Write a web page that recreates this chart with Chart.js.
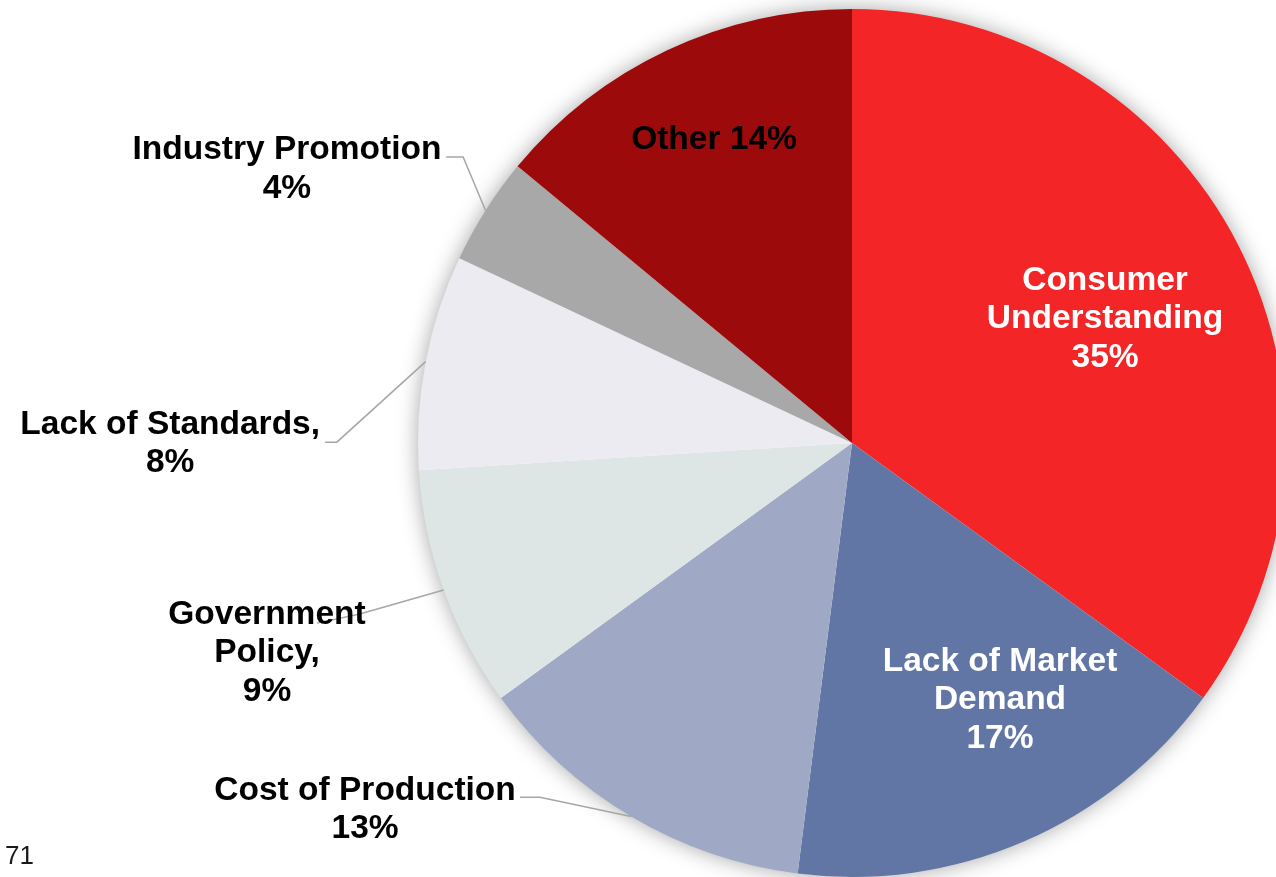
<!DOCTYPE html>
<html>
<head>
<meta charset="utf-8">
<script src="https://cdn.jsdelivr.net/npm/chart.js@4.4.1/dist/chart.umd.min.js"></script>
<style>
  html, body { margin: 0; padding: 0; background: #ffffff; overflow: hidden; width: 1276px; height: 877px; }
  #wrap { position: absolute; left: 0; top: 0; width: 1300px; height: 900px; }
  #pageNum { position: absolute; left: 5px; top: 840px; font-family: "Liberation Sans", Arial, sans-serif; font-size: 26px; color: #1a1a1a; line-height: 30px; }
</style>
</head>
<body>
<div id="wrap"><canvas id="c" width="1300" height="900"></canvas></div>
<div id="pageNum">71</div>
<script>
// ---- data ----
const categories = ["Consumer Understanding", "Lack of Market Demand", "Cost of Production", "Government Policy", "Lack of Standards", "Industry Promotion", "Other"];
const shares = [35, 17, 13, 9, 8, 4, 14];
const labelTemplates = [
  "Consumer\nUnderstanding\n{v}%",
  "Lack of Market\nDemand\n{v}%",
  "Cost of Production\n{v}%",
  "Government\nPolicy,\n{v}%",
  "Lack of Standards,\n{v}%",
  "Industry Promotion\n{v}%",
  "Other {v}%"
];

// ---- styles ----
const sliceColors = ["#F32526", "#6276A6", "#9FA8C5", "#DEE5E5", "#ECEBF1", "#A8A8A8", "#9C0A0B"];
const labelColors = ["#ffffff", "#ffffff", "#000000", "#000000", "#000000", "#000000", "#000000"];
// label block centre, relative to pie centre in units of radius; leader: start & elbow (null = inside label)
const labelLayout = [
  { c: [0.583, -0.293], leader: null },
  { c: [0.341, 0.585], leader: null },
  { c: [-1.122, 0.838], leader: [[-0.765, 0.816], [-0.719, 0.816]] },
  { c: [-1.348, 0.477], leader: [[-1.233, 0.415], [-1.134, 0.394]] },
  { c: [-1.571, -0.005], leader: [[-1.214, -0.002], [-1.187, -0.002]] },
  { c: [-1.302, -0.638], leader: [[-0.935, -0.659], [-0.896, -0.659]] },
  { c: [-0.318, -0.705], leader: null }
];
const FONT = 'bold 33.5px "Liberation Sans", Arial, Helvetica, sans-serif';
const LINE_H = 38.5;
const TEXT_DY = 3;

const shadowPlugin = {
  id: 'pieShadow',
  beforeDatasetsDraw(chart) {
    const arc = chart.getDatasetMeta(0).data[0];
    if (!arc) return;
    const ctx = chart.ctx;
    ctx.save();
    ctx.shadowColor = 'rgba(0,0,0,0.38)';
    ctx.shadowBlur = 22;
    ctx.beginPath();
    ctx.arc(arc.x, arc.y, arc.outerRadius - 1, 0, Math.PI * 2);
    ctx.fillStyle = '#ffffff';
    ctx.fill();
    ctx.restore();
  }
};

const labelPlugin = {
  id: 'pieLabels',
  afterDatasetsDraw(chart) {
    const ctx = chart.ctx;
    const meta = chart.getDatasetMeta(0);
    const values = chart.data.datasets[0].data;
    meta.data.forEach((arc, i) => {
      const R = arc.outerRadius;
      const cx = arc.x, cy = arc.y;
      const lay = labelLayout[i];
      if (lay.leader) {
        const mid = (arc.startAngle + arc.endAngle) / 2;
        const ex = cx + Math.cos(mid) * R;
        const ey = cy + Math.sin(mid) * R;
        ctx.save();
        ctx.strokeStyle = '#A6A6A6';
        ctx.lineWidth = 1.5;
        ctx.beginPath();
        ctx.moveTo(cx + lay.leader[0][0] * R, cy + lay.leader[0][1] * R);
        ctx.lineTo(cx + lay.leader[1][0] * R, cy + lay.leader[1][1] * R);
        ctx.lineTo(ex, ey);
        ctx.stroke();
        ctx.restore();
      }
      const lines = labelTemplates[i].replace('{v}', values[i]).split('\n');
      const tx = cx + lay.c[0] * R;
      const ty = cy + lay.c[1] * R + TEXT_DY;
      ctx.save();
      ctx.font = FONT;
      ctx.fillStyle = labelColors[i];
      ctx.textAlign = 'center';
      ctx.textBaseline = 'middle';
      const y0 = ty - (lines.length - 1) * LINE_H / 2;
      lines.forEach((ln, k) => ctx.fillText(ln, tx, y0 + k * LINE_H));
      ctx.restore();
    });
  }
};

new Chart(document.getElementById('c'), {
  type: 'pie',
  data: {
    labels: categories,
    datasets: [{
      data: shares,
      backgroundColor: sliceColors,
      borderWidth: 0
    }]
  },
  options: {
    responsive: false,
    devicePixelRatio: 1,
    animation: false,
    layout: { padding: { left: 418, top: 9, right: 14, bottom: 23 } },
    plugins: {
      legend: { display: false },
      tooltip: { enabled: false }
    }
  },
  plugins: [shadowPlugin, labelPlugin]
});
</script>
</body>
</html>
